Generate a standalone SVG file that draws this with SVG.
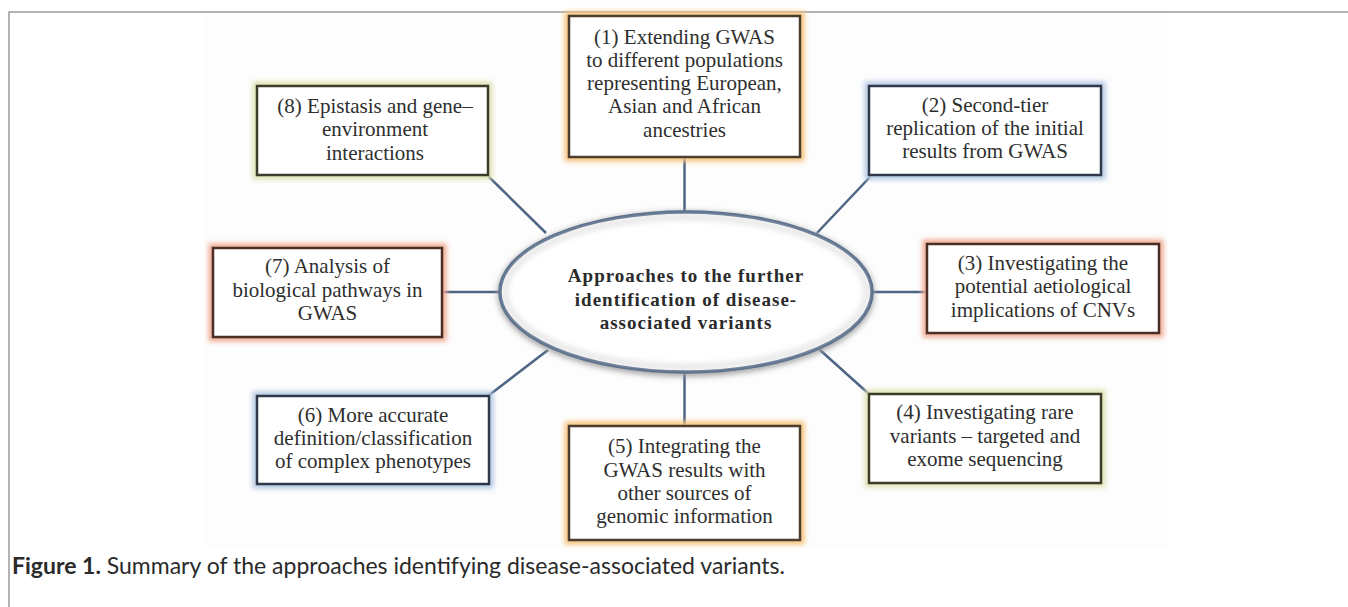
<svg xmlns="http://www.w3.org/2000/svg" width="1348" height="607" viewBox="0 0 1348 607">
<defs>
<filter id="blur" x="-20%" y="-20%" width="140%" height="140%"><feGaussianBlur stdDeviation="2.5"/></filter>
<filter id="eblur" x="-20%" y="-30%" width="140%" height="160%"><feGaussianBlur stdDeviation="3"/></filter>
<style>
.frame{fill:none;stroke:#9a9a9a;stroke-width:1.5}
.box{fill:#fff;stroke-width:2.5}
.glow{fill:none;stroke-width:9;filter:url(#blur)}
.g-o{stroke:#f7c27a}.b-o{stroke:#4a3c2e}
.g-b{stroke:#b4c8e2}.b-b{stroke:#2e3848}
.g-r{stroke:#f0aa92}.b-r{stroke:#4a2e26}
.g-y{stroke:#dfe2b4}.b-y{stroke:#3c3c2a}
.lbl{font-family:"Liberation Serif","Times New Roman",serif;font-size:21px;fill:#2e2e2e;text-anchor:middle}
.ctr{font-family:"Liberation Serif","Times New Roman",serif;font-size:19px;letter-spacing:1px;font-weight:bold;fill:#2a2a2a;text-anchor:middle}
.conn line{stroke:#4e6584;stroke-width:2.5}
.cap{font-family:Lato,"Open Sans",sans-serif;font-size:23px;fill:#2a2a2a}
</style>
</defs>
<rect x="0" y="0" width="1348" height="607" fill="#fff"/>
<rect x="205" y="14" width="962" height="533" fill="#fdfdfd"/>
<path class="frame" d="M9,607 V12 H1348"/>

<g id="connectors" class="conn">
<line x1="684.5" y1="157" x2="684.5" y2="212"/>
<line x1="684.5" y1="372" x2="684.5" y2="426"/>
<line x1="442" y1="292" x2="500" y2="292"/>
<line x1="872" y1="292" x2="927" y2="292"/>
<line x1="546" y1="233" x2="488" y2="176"/>
<line x1="817" y1="233" x2="870" y2="177"/>
<line x1="548" y1="350" x2="488" y2="396"/>
<line x1="820" y1="350" x2="869" y2="394"/>
</g>

<g id="center">
<ellipse cx="686" cy="294" rx="184" ry="78" fill="none" stroke="#9a9a9a" stroke-width="8" filter="url(#eblur)"/>
<ellipse cx="686" cy="292" rx="186" ry="80" fill="#fff" stroke="#4e6584" stroke-width="3.5"/>
<ellipse cx="686" cy="292" rx="181" ry="75" fill="none" stroke="#d8d8d8" stroke-width="4" filter="url(#eblur)"/>
<text class="ctr"><tspan x="686" y="282">Approaches to the further</tspan><tspan x="686" y="306">identification of disease-</tspan><tspan x="686" y="329">associated variants</tspan></text>
</g>

<g id="node1">
<rect class="glow g-o" x="569" y="16" width="231" height="141"/>
<rect class="box b-o" x="569" y="16" width="231" height="141"/>
<text class="lbl"><tspan x="684.5" y="43.5">(1) Extending GWAS</tspan><tspan x="684.5" y="66.8">to different populations</tspan><tspan x="684.5" y="90.1">representing European,</tspan><tspan x="684.5" y="113.4">Asian and African</tspan><tspan x="684.5" y="136.7">ancestries</tspan></text>
</g>

<g id="node2">
<rect class="glow g-b" x="869" y="86" width="232" height="89"/>
<rect class="box b-b" x="869" y="86" width="232" height="89"/>
<text class="lbl"><tspan x="985" y="111.7">(2) Second-tier</tspan><tspan x="985" y="135">replication of the initial</tspan><tspan x="985" y="158.3">results from GWAS</tspan></text>
</g>

<g id="node3">
<rect class="glow g-r" x="927" y="244" width="232" height="89"/>
<rect class="box b-r" x="927" y="244" width="232" height="89"/>
<text class="lbl"><tspan x="1043" y="270">(3) Investigating the</tspan><tspan x="1043" y="293.3">potential aetiological</tspan><tspan x="1043" y="316.6">implications of CNVs</tspan></text>
</g>

<g id="node4">
<rect class="glow g-y" x="869" y="394" width="232" height="89"/>
<rect class="box b-y" x="869" y="394" width="232" height="89"/>
<text class="lbl"><tspan x="985" y="419.3">(4) Investigating rare</tspan><tspan x="985" y="442.6">variants – targeted and</tspan><tspan x="985" y="466">exome sequencing</tspan></text>
</g>

<g id="node5">
<rect class="glow g-o" x="569" y="426" width="231" height="114"/>
<rect class="box b-o" x="569" y="426" width="231" height="114"/>
<text class="lbl"><tspan x="684.5" y="453.3">(5) Integrating the</tspan><tspan x="684.5" y="476.6">GWAS results with</tspan><tspan x="684.5" y="499.9">other sources of</tspan><tspan x="684.5" y="523.2">genomic information</tspan></text>
</g>

<g id="node6">
<rect class="glow g-b" x="257" y="396" width="232" height="88"/>
<rect class="box b-b" x="257" y="396" width="232" height="88"/>
<text class="lbl"><tspan x="373" y="421.7">(6) More accurate</tspan><tspan x="373" y="445">definition/classification</tspan><tspan x="373" y="468.3">of complex phenotypes</tspan></text>
</g>

<g id="node7">
<rect class="glow g-r" x="213" y="248" width="229" height="89"/>
<rect class="box b-r" x="213" y="248" width="229" height="89"/>
<text class="lbl"><tspan x="327.5" y="273.3">(7) Analysis of</tspan><tspan x="327.5" y="296.6">biological pathways in</tspan><tspan x="327.5" y="320">GWAS</tspan></text>
</g>

<g id="node8">
<rect class="glow g-y" x="257" y="86" width="231" height="89"/>
<rect class="box b-y" x="257" y="86" width="231" height="89"/>
<text class="lbl"><tspan x="375" y="113">(8) Epistasis and gene–</tspan><tspan x="375" y="136.3">environment</tspan><tspan x="375" y="159.6">interactions</tspan></text>
</g>

<text class="cap" x="12" y="574"><tspan font-weight="bold">Figure 1.</tspan>  Summary of the approaches identifying disease-associated variants.</text>
</svg>
